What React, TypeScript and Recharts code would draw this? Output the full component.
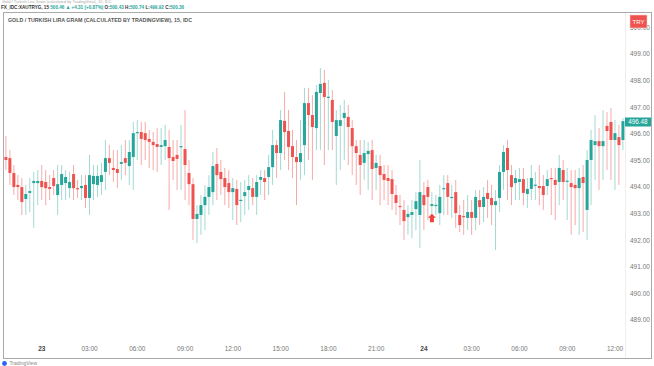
import React from 'react';
import { ComposedChart, Bar, XAxis, YAxis, ReferenceDot } from 'recharts';

// 15 minute candles, first one 22nd 21:45, last one 24th 12:30
const opens = [
  495.13, 495.09, 494.53, 494.08, 494.0, 493.55, 493.78, 494.15, 494.15, 494.23,
  494.19, 494.0, 494.34, 493.7, 494.08, 494.15, 493.96, 494.49, 493.96, 493.96,
  494.08, 493.59, 494.11, 494.08, 494.19, 494.57, 495.09, 494.72, 494.68, 494.87,
  495.09, 494.79, 495.13, 496.03, 496.07, 496.03, 495.81, 495.7, 495.62, 495.51,
  495.54, 495.51, 495.13, 495.21, 495.51, 495.43, 494.53, 494.11, 492.8, 492.95,
  493.32, 493.63, 493.81, 494.87, 494.57, 494.34, 494.15, 493.81, 493.93, 493.51,
  493.66, 493.89, 493.96, 493.63, 494.27, 494.34, 494.38, 494.75, 495.58, 495.28,
  496.49, 496.11, 495.54, 495.13, 494.94, 495.58, 497.16, 496.71, 496.22, 497.54,
  497.92, 497.39, 497.28, 495.92, 496.3, 496.6, 496.64, 496.22, 495.54, 495.21,
  494.91, 495.24, 495.39, 494.72, 494.79, 494.49, 494.34, 494.3, 493.7, 493.29,
  493.14, 492.87, 492.95, 493.17, 492.95, 493.7, 494.0, 493.29, 493.32, 493.02,
  493.93, 494.15, 493.59, 493.81, 492.95, 492.91, 492.84, 493.06, 492.84, 493.51,
  493.25, 493.78, 493.59, 493.32, 493.59, 494.57, 495.47, 494.45, 494.15, 494.19,
  494.3, 493.74, 493.93, 494.08, 494.04, 494.04, 494.04, 494.34, 494.27, 494.19,
  494.64, 494.23, 494.15, 494.08, 493.96, 494.38, 493.14, 495.02, 495.58, 495.73,
  495.54, 496.3, 496.45, 495.77, 495.88, 495.77,
];

const highs = [
  495.92, 495.39, 494.83, 494.45, 494.34, 494.08, 494.34, 494.57, 494.64, 494.83,
  494.64, 494.45, 494.64, 494.83, 494.83, 494.64, 494.57, 494.83, 494.27, 494.45,
  494.45, 495.21, 494.83, 494.83, 494.91, 495.77, 495.58, 495.39, 495.39, 495.58,
  495.77, 495.77, 496.45, 496.52, 496.45, 496.45, 496.15, 496.07, 496.22, 496.22,
  496.34, 496.15, 495.77, 495.77, 496.34, 496.9, 495.02, 494.34, 493.32, 493.7,
  494.08, 494.45, 495.32, 495.47, 495.02, 494.72, 494.64, 494.34, 494.27, 494.19,
  494.27, 494.45, 494.34, 494.45, 494.64, 494.64, 495.21, 496.15, 495.77, 496.9,
  497.58, 496.9, 496.15, 495.77, 496.52, 497.73, 497.73, 497.46, 497.84, 498.48,
  498.41, 498.03, 497.65, 496.9, 497.09, 497.28, 497.09, 496.52, 495.77, 495.77,
  495.77, 495.7, 495.77, 495.21, 495.21, 494.83, 494.83, 494.64, 494.08, 493.7,
  493.51, 493.32, 493.51, 493.81, 495.02, 494.19, 494.27, 493.81, 493.7, 494.08,
  494.45, 494.45, 494.08, 494.27, 493.32, 493.51, 493.7, 493.51, 493.89, 493.89,
  494.0, 494.27, 494.08, 493.89, 494.83, 495.58, 495.77, 494.83, 494.64, 494.72,
  494.72, 494.34, 494.83, 494.57, 494.83, 494.45, 494.64, 494.72, 494.72, 495.21,
  495.02, 494.72, 494.64, 494.64, 494.72, 494.83, 495.39, 496.15, 496.71, 496.22,
  496.9, 496.82, 496.97, 496.52, 496.34, 496.6,
];

const lows = [
  494.64, 494.08, 493.7, 493.51, 492.95, 492.95, 493.06, 492.46, 493.32, 493.51,
  493.32, 493.51, 493.7, 492.95, 493.51, 493.51, 493.59, 493.51, 493.59, 493.51,
  493.21, 492.95, 493.51, 493.63, 493.7, 493.89, 494.45, 494.19, 493.96, 494.27,
  494.45, 494.08, 493.89, 495.02, 494.83, 495.02, 494.72, 494.64, 494.57, 494.83,
  495.02, 493.14, 494.27, 493.89, 493.89, 493.51, 493.32, 492.01, 491.89, 492.2,
  492.38, 492.95, 493.32, 493.51, 493.7, 493.32, 493.21, 492.76, 492.57, 492.68,
  492.95, 493.14, 493.32, 492.95, 493.7, 493.51, 493.7, 494.08, 494.34, 494.64,
  495.02, 494.64, 494.34, 493.32, 494.27, 494.45, 495.02, 494.27, 495.39, 495.39,
  494.83, 495.39, 495.39, 494.08, 494.64, 495.02, 494.83, 494.45, 494.08, 493.7,
  494.27, 493.89, 493.51, 493.89, 493.32, 493.51, 493.32, 493.14, 492.95, 492.57,
  492.01, 492.2, 492.08, 492.38, 491.71, 492.38, 492.76, 492.95, 492.95, 492.57,
  492.95, 492.95, 492.84, 492.46, 492.31, 492.2, 492.38, 492.2, 492.38, 492.57,
  492.68, 492.84, 492.57, 491.63, 493.06, 493.89, 493.51, 493.32, 493.51, 493.51,
  493.32, 493.21, 493.51, 493.51, 493.32, 493.14, 493.7, 492.95, 492.76, 493.32,
  493.51, 492.76, 492.2, 492.57, 492.2, 492.31, 492.01, 493.32, 494.27, 493.89,
  494.27, 494.64, 494.27, 493.89, 494.08, 495.39,
];

const closes = [
  495.02, 494.53, 494.0, 494.0, 493.44, 493.74, 493.85, 494.23, 494.23, 494.0,
  493.96, 493.93, 494.04, 494.11, 494.49, 494.38, 494.19, 493.96, 493.93, 494.04,
  493.59, 494.45, 494.42, 494.42, 494.45, 495.09, 494.91, 494.64, 494.53, 494.94,
  494.91, 495.32, 496.03, 496.07, 495.81, 495.77, 495.7, 495.58, 495.51, 495.58,
  495.77, 495.09, 494.98, 495.06, 495.54, 494.83, 494.11, 492.8, 492.99, 493.32,
  493.63, 494.0, 494.79, 494.45, 494.3, 494.0, 493.81, 493.96, 493.32, 493.52,
  493.81, 494.04, 493.63, 494.19, 494.38, 494.19, 494.75, 495.58, 495.28, 496.52,
  496.07, 495.51, 495.13, 494.94, 495.28, 497.16, 496.71, 496.26, 497.58, 497.88,
  497.39, 497.4, 496.45, 496.52, 496.52, 496.79, 496.26, 495.54, 495.28, 494.83,
  495.28, 495.36, 494.68, 494.91, 494.45, 494.27, 494.23, 493.74, 493.4, 493.25,
  492.72, 492.99, 493.06, 493.47, 493.81, 493.32, 493.63, 493.36, 493.33, 493.63,
  493.96, 493.63, 493.63, 493.02, 492.57, 492.87, 493.06, 492.84, 493.63, 493.25,
  493.63, 493.55, 493.32, 493.47, 494.57, 495.32, 494.64, 494.0, 494.34, 494.3,
  493.78, 493.93, 494.34, 494.09, 493.96, 493.7, 494.3, 494.3, 494.08, 494.72,
  494.19, 494.24, 494.0, 493.96, 494.34, 494.15, 495.02, 495.77, 495.73, 495.54,
  495.73, 496.11, 495.77, 496.03, 495.58, 496.48,
];

const xTickIndex = [9, 21, 33, 45, 57, 69, 81, 93, 105, 117, 129, 141, 153];
const xTickLabels = ['23', '03:00', '06:00', '09:00', '12:00', '15:00', '18:00', '21:00', '24', '03:00', '06:00', '09:00', '12:00'];
const priceTicks = [489, 490, 491, 492, 493, 494, 495, 496, 497, 498, 499, 500];

const lastPrice = 496.48;
const arrowIndex = 107;
const arrowPrice = 492.85;

const UP = '#26a69a';
const DOWN = '#ef5350';
const FONT = '"Liberation Sans", Arial, sans-serif';

const data = opens.map((o, i) => ({
  i,
  o,
  h: highs[i],
  l: lows[i],
  c: closes[i],
  range: [lows[i], highs[i]],
}));

const Candle = (props: any) => {
  const { x, y, width, height, payload } = props;
  const { o, h, l, c } = payload;
  const cx = x + width / 2;
  const span = h - l || 1;
  const py = (v: number) => y + ((h - v) / span) * height;
  const up = c >= o;
  const top = py(Math.max(o, c));
  const bot = py(Math.min(o, c));
  return (
    <g>
      <line x1={cx} x2={cx} y1={y} y2={y + height} stroke={up ? '#a3d9d3' : '#f6abaa'} strokeWidth={1} />
      <rect x={cx - 1.5} y={top} width={3} height={Math.max(1.2, bot - top)} fill={up ? UP : DOWN} />
    </g>
  );
};

const Arrow = (props: any) => {
  const { cx, cy } = props;
  return (
    <polygon
      points={`${cx},${cy - 4} ${cx + 4},${cy} ${cx + 2},${cy} ${cx + 2},${cy + 4.5} ${cx - 2},${cy + 4.5} ${cx - 2},${cy} ${cx - 4},${cy}`}
      fill="#f0453a"
    />
  );
};

const XTick = (props: any) => {
  const { x, y, payload } = props;
  const k = xTickIndex.indexOf(payload.value);
  const label = xTickLabels[k];
  const day = label.indexOf(':') < 0;
  return (
    <text x={x} y={y} dy={5} textAnchor="middle" fontSize={6.5} fontFamily={FONT} fill={day ? '#444' : '#777'} fontWeight={day ? 'bold' : 'normal'}>
      {label}
    </text>
  );
};

export default function App() {
  return (
    <div style={{ position: 'absolute', left: 0, top: 0, width: 654, height: 366, background: '#fff', overflow: 'hidden', fontFamily: FONT }}>
      <div style={{ position: 'absolute', left: 3, top: 12, width: 647, height: 345, border: '1px solid #aaa' }} />
      <div style={{ position: 'absolute', left: 625, top: 13, width: 1, height: 345, background: '#eee' }} />
      <div style={{ position: 'absolute', left: 0, top: 0 }}>
        <ComposedChart width={654} height={366} data={data} margin={{ top: 13, right: 0, left: 4, bottom: 8 }}>
          <XAxis
            type="number"
            dataKey="i"
            domain={[-0.5, 155.5]}
            ticks={xTickIndex}
            interval={0}
            height={16}
            axisLine={false}
            tickLine={false}
            tickSize={0}
            tickMargin={4}
            tick={<XTick />}
          />
          <YAxis
            yAxisId={0}
            orientation="right"
            type="number"
            domain={[488.17, 500.55]}
            allowDataOverflow
            ticks={priceTicks}
            interval={0}
            width={29}
            axisLine={false}
            tickLine={false}
            tickSize={0}
            tickMargin={5}
            tickFormatter={(v: number) => v.toFixed(2)}
            tick={{ fontSize: 6.5, fill: '#777', fontFamily: FONT }}
          />
          <Bar dataKey="range" shape={<Candle />} isAnimationActive={false} />
          <ReferenceDot x={arrowIndex} y={arrowPrice} shape={<Arrow />} />
        </ComposedChart>
      </div>
      <svg width={654} height={366} style={{ position: 'absolute', left: 0, top: 0, pointerEvents: 'none' }}>
        <text x={2} y={3.2} fontSize={4} fill="#aaa" fontFamily={FONT}>
          Gold / Turkish Lira Gram (calculated by TradingView), 15, IDC
        </text>
        <text transform="translate(1 8.8) scale(0.77 1)" x={0} y={0} fontSize={6} fontWeight="bold" fill="#333" fontFamily={FONT}>
          FX_IDC:XAUTRYG, 15{' '}
          <tspan fill={UP}>500.46 ▲ +4.31 (+0.87%)</tspan>{' '}
          O:<tspan fill={UP}>500.43</tspan> H:<tspan fill={UP}>500.74</tspan> L:<tspan fill={UP}>499.92</tspan> C:<tspan fill={UP}>500.36</tspan>
        </text>
        <text x={8} y={22} fontSize={6} fontWeight="bold" fill="#555" fontFamily={FONT} textLength={184} lengthAdjust="spacingAndGlyphs">
          GOLD / TURKISH LIRA GRAM (CALCULATED BY TRADINGVIEW), 15, IDC
        </text>
        <rect x={630} y={15} width={17} height={13} fill={DOWN} stroke="#f9c9c8" strokeWidth={0.6} />
        <text x={638.5} y={23.5} fontSize={6} fill="#fff" textAnchor="middle" fontFamily={FONT}>TRY</text>
        <rect x={625} y={117.5} width={26} height={9} fill={UP} />
        <text x={638} y={124.3} fontSize={6.3} fill="#fff" textAnchor="middle" fontFamily={FONT}>
          {lastPrice.toFixed(2)}
        </text>
        <circle cx={4.5} cy={363.5} r={2.4} fill="#2962ff" />
        <text x={9.5} y={364.8} fontSize={5} fill="#888" fontFamily={FONT}>TradingView</text>
      </svg>
    </div>
  );
}
